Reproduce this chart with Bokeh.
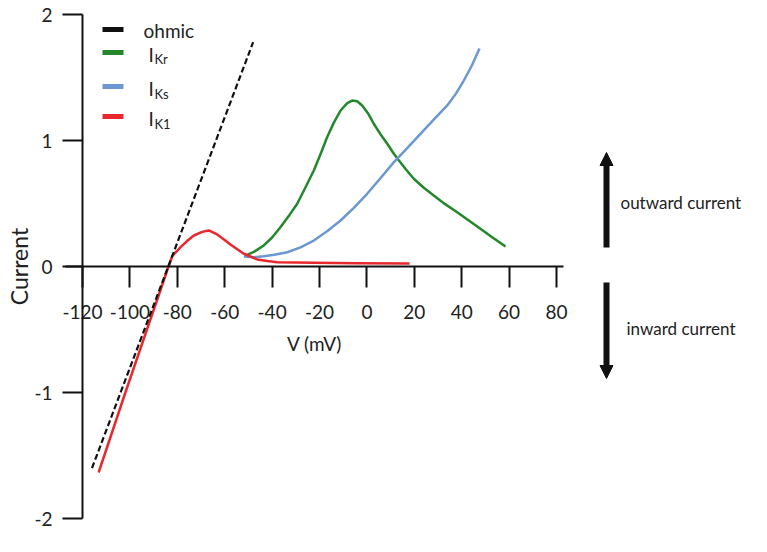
from bokeh.plotting import figure
from bokeh.models import Range1d, FixedTicker, Label, BoxAnnotation, Arrow, NormalHead
from bokeh.embed import file_html
from bokeh.resources import INLINE

# ---- data ----
ohmic_v = [-116.0, -48.0]
ohmic_i = [-1.60, 1.78]

ik1_v = [-113.2, -101.9, -83.7, -82.0, -80.3, -78.6, -76.0, -73.0, -69.5, -66.7, -63.2, -60.3,
         -57.6, -52.1, -46.3, -42.0, -37.8, -30.0, -22.5, -5.0, 18.0]
ik1_i = [-1.635, -1.0, 0.0, 0.087, 0.119, 0.153, 0.200, 0.246, 0.275, 0.286, 0.254, 0.215,
         0.175, 0.103, 0.056, 0.043, 0.034, 0.031, 0.029, 0.026, 0.024]

ikr_v = [-51.2, -47.5, -43.5, -40.0, -36.5, -33.0, -29.4, -26.0, -22.4, -19.5, -16.8, -14.0,
         -11.1, -8.3, -6.2, -4.1, -2.0, 0.5, 2.9, 5.7, 8.6, 11.0, 13.5, 16.5, 19.8, 24.0,
         28.2, 33.0, 38.1, 43.0, 47.9, 53.0, 58.5]
ikr_i = [0.087, 0.118, 0.167, 0.230, 0.312, 0.400, 0.498, 0.625, 0.762, 0.895, 1.026, 1.140,
         1.238, 1.296, 1.317, 1.312, 1.278, 1.215, 1.133, 1.050, 0.974, 0.905, 0.841, 0.770,
         0.696, 0.625, 0.563, 0.495, 0.431, 0.365, 0.299, 0.230, 0.159]

iks_v = [-51.9, -47.5, -43.5, -38.5, -33.6, -28.0, -22.4, -16.8, -11.1, -5.5, 0.1, 5.7,
         11.4, 17.0, 22.6, 28.2, 33.9, 37.5, 40.9, 44.3, 47.5]
iks_i = [0.079, 0.074, 0.082, 0.095, 0.113, 0.152, 0.206, 0.280, 0.365, 0.466, 0.577, 0.700,
         0.828, 0.940, 1.053, 1.165, 1.278, 1.370, 1.476, 1.595, 1.730]

x_ticks = [-120, -100, -80, -60, -40, -20, 0, 20, 40, 60, 80]
y_ticks = [-2, -1, 0, 1, 2]

# ---- layout helpers (page pixel -> data) ----
W, H = 751, 536
OFF = 0                  # page offset of the canvas
X0, XS = 82.0, 2.37      # page x of -120 mV, px per mV
Y0, YS = 266.0, 126.0    # page y of 0, px per unit

def px2x(px):
    return -120 + (px - X0) / XS

def py2y(py):
    return (Y0 - py) / YS

FONT = "Lato"
TXT = "#222222"
BLACK = "#111111"
GREEN = "#22882a"
BLUE = "#6b97d3"
RED = "#e8282c"

p = figure(width=W, height=H, output_backend="svg", toolbar_location=None,
           x_range=Range1d(px2x(OFF), px2x(OFF + W)),
           y_range=Range1d(py2y(OFF + H), py2y(OFF)),
           min_border=0, outline_line_color=None,
           background_fill_color="white", border_fill_color="white")
p.grid.visible = False

# x axis at I = 0
xa = p.xaxis[0]
xa.fixed_location = 0
xa.bounds = (px2x(65), px2x(563))
xa.ticker = FixedTicker(ticks=x_ticks)
xa.major_label_overrides = {t: str(t) for t in x_ticks}
xa.minor_tick_line_color = None
xa.major_tick_in = 0
xa.major_tick_out = 21
xa.axis_line_width = 2
xa.axis_line_color = BLACK
xa.major_tick_line_width = 2
xa.major_tick_line_color = BLACK
xa.major_label_text_font = FONT
xa.major_label_text_font_size = "19px"
xa.major_label_text_color = TXT
xa.major_label_standoff = 17
xa.axis_label = "V (mV)"
xa.axis_label_text_font = FONT
xa.axis_label_text_font_style = "normal"
xa.axis_label_text_font_size = "19px"
xa.axis_label_text_color = TXT
xa.axis_label_standoff = 10

# y axis at V = -120
ya = p.yaxis[0]
ya.fixed_location = -120
ya.bounds = (-2, 2)
ya.ticker = FixedTicker(ticks=y_ticks)
ya.major_label_overrides = {t: str(t) for t in y_ticks}
ya.minor_tick_line_color = None
ya.major_tick_in = 0
ya.major_tick_out = 20
ya.axis_line_width = 2
ya.axis_line_color = BLACK
ya.major_tick_line_width = 2
ya.major_tick_line_color = BLACK
ya.major_label_text_font = FONT
ya.major_label_text_font_size = "19px"
ya.major_label_text_color = TXT
ya.major_label_standoff = 10
ya.axis_label = "Current"
ya.axis_label_text_font = FONT
ya.axis_label_text_font_style = "normal"
ya.axis_label_text_font_size = "23px"
ya.axis_label_text_color = TXT
ya.axis_label_standoff = -2

# ---- curves ----
p.line(ikr_v, ikr_i, line_color=GREEN, line_width=2.5, line_join="round")
p.line(iks_v, iks_i, line_color=BLUE, line_width=2.5, line_join="round")
p.line(ik1_v, ik1_i, line_color=RED, line_width=2.5, line_join="round")
p.line(ohmic_v, ohmic_i, line_color=BLACK, line_width=2.2, line_dash="6 3")

# ---- legend (manual, to allow subscripts) ----
for cy, col in [(29, BLACK), (52, GREEN), (86, BLUE), (116, RED)]:
    p.add_layout(BoxAnnotation(left=px2x(102), right=px2x(123),
                               top=py2y(cy - 2.5), bottom=py2y(cy + 2.5),
                               fill_color=col, fill_alpha=1.0, line_color=None))

def lab(text, px, py, size, base="middle"):
    p.add_layout(Label(x=px2x(px), y=py2y(py), text=text, text_font=FONT,
                       text_font_size=size, text_color=TXT,
                       text_align="left", text_baseline=base))

lab("ohmic", 143, 30, "19px")
for cy, sub in [(53.5, "Kr"), (88, "Ks"), (118, "K1")]:
    lab("I", 148, cy, "19px")
    lab(sub, 154, cy + 5, "13px")

# ---- outward / inward annotations ----
p.add_layout(Arrow(end=NormalHead(size=13, fill_color=BLACK, line_color=BLACK),
                   x_start=px2x(606), y_start=py2y(247), x_end=px2x(606), y_end=py2y(152),
                   line_width=6, line_color=BLACK))
p.add_layout(Arrow(end=NormalHead(size=13, fill_color=BLACK, line_color=BLACK),
                   x_start=px2x(606), y_start=py2y(282), x_end=px2x(606), y_end=py2y(378),
                   line_width=6, line_color=BLACK))
lab("outward current", 620, 202, "17px")
lab("inward current", 626, 328, "17px")

open("out.html", "w").write(file_html(p, INLINE))
